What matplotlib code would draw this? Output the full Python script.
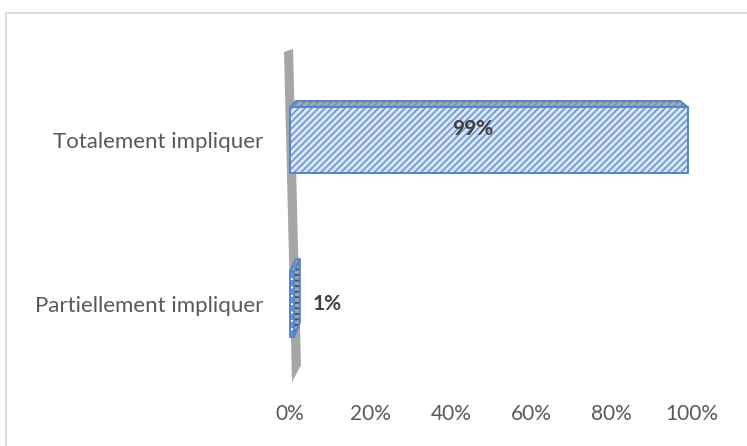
import matplotlib
matplotlib.use('Agg')
import matplotlib.pyplot as plt
from matplotlib.patches import Polygon, Rectangle
from matplotlib.ticker import PercentFormatter

# Data
categories = ['Partiellement impliquer', 'Totalement impliquer']
values = [0.01, 0.99]
value_labels = ['1%', '99%']
x_ticks = [0, 0.2, 0.4, 0.6, 0.8, 1.0]

plt.rcParams['font.family'] = ['Lato', 'DejaVu Sans']
plt.rcParams['hatch.linewidth'] = 1.3

# 3D look: each bar is extruded toward a vanishing point (data coords)
VANISH = (0.428, 2.287)
DEPTH = 0.035
BAR_H = 0.40

EDGE = '#5485C8'
FRONT_BG = '#DCE7F6'
FRONT_HATCH = '#6F9BD8'
TOP_BG = '#A3AAB6'
TOP_HATCH = '#7A8FB0'


def back(x, y):
    return (x + DEPTH * (VANISH[0] - x), y + DEPTH * (VANISH[1] - y))


def face(ax, pts, bg, hatch_color, hatch, z):
    ax.add_patch(Polygon(pts, closed=True, facecolor=bg, edgecolor=hatch_color,
                         hatch=hatch, linewidth=0, zorder=z, clip_on=False))
    ax.add_patch(Polygon(pts, closed=True, fill=False, edgecolor=EDGE,
                         linewidth=1.4, joinstyle='round', zorder=z + 0.1,
                         clip_on=False))


fig = plt.figure(figsize=(7.47, 4.46), dpi=100)
ax = fig.add_axes([290 / 747, 1 - 383 / 446, 402 / 747, 335 / 446])
ax.set_xlim(0, 1)
ax.set_ylim(-0.4817, 1.561)

# grey side wall behind the bars
wall = [(-0.0149, 1.537), (0.0075, 1.555), (0.0274, -0.372), (0.005, -0.476)]
ax.add_patch(Polygon(wall, closed=True, facecolor='#A6A6A6', edgecolor='none',
                     zorder=1, clip_on=False))

for pos, val, lab in zip(range(len(categories)), values, value_labels):
    x0, x1 = 0, val
    y0, y1 = pos - BAR_H / 2, pos + BAR_H / 2
    top = [(x0, y1), (x1, y1), back(x1, y1), back(x0, y1)]
    front = [(x0, y0), (x1, y0), (x1, y1), (x0, y1)]
    if x1 < VANISH[0]:
        side = [(x1, y0), (x1, y1), back(x1, y1), back(x1, y0)]
        face(ax, side, '#9EA3AB', '#2F4E80', '---', 2)
        face(ax, top, TOP_BG, TOP_HATCH, '/////', 2)
        face(ax, front, '#6593D3', 'white', '--', 3)
        ax.text(x1 + 0.047, pos, lab, ha='left', va='center', fontsize=15,
                fontweight='bold', color='#404040', zorder=5)
    else:
        face(ax, top, TOP_BG, TOP_HATCH, '/////', 2)
        face(ax, front, FRONT_BG, FRONT_HATCH, '/////', 3)
        ax.text(val * 0.46, pos + 0.065, lab, ha='center', va='center',
                fontsize=15, fontweight='bold', color='#404040', zorder=5)

ax.set_xticks(x_ticks)
ax.xaxis.set_major_formatter(PercentFormatter(1.0, decimals=0))
ax.set_yticks(range(len(categories)))
ax.set_yticklabels(categories)
ax.tick_params(axis='x', length=0, pad=15, labelsize=15, labelcolor='#595959')
ax.tick_params(axis='y', length=0, pad=19, labelsize=16, labelcolor='#595959')
for s in ax.spines.values():
    s.set_visible(False)
ax.patch.set_alpha(0)

# chart area border
fig.patches.append(Rectangle((6 / 747, -0.1), 1.2, 1.1 - 13 / 446, fill=False,
                             edgecolor='#D9D9D9', linewidth=1.3,
                             transform=fig.transFigure, figure=fig))

fig.savefig('out.png', dpi=100)
